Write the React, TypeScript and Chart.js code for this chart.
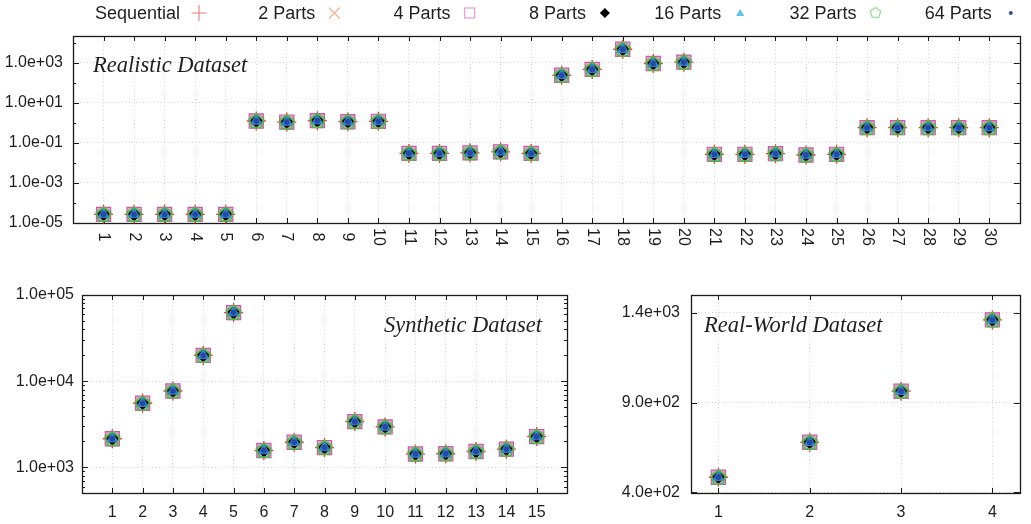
import React, { useEffect, useRef } from 'react';
import { Chart, registerables } from 'chart.js';

Chart.register(...registerables);

// ---------------- DATA ----------------
const SERIES_LABELS = ['Sequential', '2 Parts', '4 Parts', '8 Parts', '16 Parts', '32 Parts', '64 Parts'];

const REALISTIC_CATEGORIES = [1, 2, 3, 4, 5, 6, 7, 8, 9, 10, 11, 12, 13, 14, 15, 16, 17, 18, 19, 20, 21, 22, 23, 24, 25, 26, 27, 28, 29, 30];
const REALISTIC_VALUES = [
  2.7e-5, 2.7e-5, 2.7e-5, 2.7e-5, 2.7e-5,
  1.25, 1.1, 1.3, 1.15, 1.2,
  0.030, 0.030, 0.032, 0.036, 0.030,
  240, 470, 4800, 930, 1080,
  0.027, 0.027, 0.029, 0.025, 0.027,
  0.58, 0.58, 0.58, 0.58, 0.58,
];
const REALISTIC_Y_TICKS = [1e-5, 1e-3, 1e-1, 1e1, 1e3];
const REALISTIC_Y_MINOR = [1e-4, 1e-2, 1e0, 1e2, 1e4];

const SYNTHETIC_CATEGORIES = [1, 2, 3, 4, 5, 6, 7, 8, 9, 10, 11, 12, 13, 14, 15];
const SYNTHETIC_VALUES = [2150, 5550, 7700, 19900, 62500, 1570, 1960, 1700, 3400, 2950, 1430, 1440, 1530, 1630, 2280];
const SYNTHETIC_Y_TICKS = [1e3, 1e4, 1e5];
const SYNTHETIC_Y_MINOR = [600, 700, 800, 900, 2000, 3000, 4000, 5000, 6000, 7000, 8000, 9000, 20000, 30000, 40000, 50000, 60000, 70000, 80000, 90000];

const REALWORLD_CATEGORIES = [1, 2, 3, 4];
const REALWORLD_VALUES = [483, 678, 963, 1361];
const REALWORLD_Y_TICKS = [400, 900, 1400];
const REALWORLD_Y_MINOR: number[] = [];

// ---------------- STYLE ----------------
const SANS = "'Liberation Sans', Arial, sans-serif";
const SERIF = "'Liberation Serif', 'Times New Roman', serif";
const TEXT = '#1e1e1e';
const GRID = '#d2d2d2';

function sci(v: number): string {
  const e = Math.floor(Math.log10(v) + 1e-9);
  const m = v / Math.pow(10, e);
  return m.toFixed(1) + 'e' + (e < 0 ? '-' : '+') + String(Math.abs(e)).padStart(2, '0');
}

function pentagonPath(ctx: CanvasRenderingContext2D, x: number, y: number, r: number) {
  ctx.beginPath();
  for (let i = 0; i < 5; i++) {
    const a = -Math.PI / 2 + (i * 2 * Math.PI) / 5;
    const px = x + r * Math.cos(a);
    const py = y + r * Math.sin(a);
    if (i === 0) ctx.moveTo(px, py);
    else ctx.lineTo(px, py);
  }
  ctx.closePath();
}

function makePentagon(r: number, color: string, lw: number): HTMLCanvasElement {
  const c = document.createElement('canvas');
  const s = Math.ceil(2 * r + 4);
  c.width = s;
  c.height = s;
  const ctx = c.getContext('2d')!;
  ctx.strokeStyle = color;
  ctx.lineWidth = lw;
  pentagonPath(ctx, s / 2, s / 2 + 0.5, r);
  ctx.stroke();
  return c;
}

function seriesStyles() {
  return [
    { pointStyle: 'cross', pointRadius: 9.5, pointBorderColor: 'rgba(255,25,25,0.9)', pointBackgroundColor: 'rgba(0,0,0,0)', pointBorderWidth: 1.3 },
    { pointStyle: 'crossRot', pointRadius: 8.5, pointBorderColor: 'rgba(245,160,110,0.95)', pointBackgroundColor: 'rgba(0,0,0,0)', pointBorderWidth: 1.3 },
    { pointStyle: 'rect', pointRadius: 10, pointBorderColor: '#c95aa8', pointBackgroundColor: 'rgba(232,160,210,0.9)', pointBorderWidth: 1.2 },
    { pointStyle: 'rectRot', pointRadius: 6.5, pointBorderColor: '#000000', pointBackgroundColor: '#000000', pointBorderWidth: 1 },
    { pointStyle: 'triangle', pointRadius: 6.5, pointBorderColor: '#2f86d0', pointBackgroundColor: '#2f86d0', pointBorderWidth: 1 },
    { pointStyle: makePentagon(7.5, '#4cbb4c', 1.8), pointRadius: 7.5, pointBorderColor: '#4cbb4c', pointBackgroundColor: 'rgba(0,0,0,0)', pointBorderWidth: 1 },
    { pointStyle: 'circle', pointRadius: 2.5, pointBorderColor: '#2848a8', pointBackgroundColor: '#2848a8', pointBorderWidth: 1 },
  ];
}

function drawLegendMarker(ctx: CanvasRenderingContext2D, i: number, x: number, y: number) {
  ctx.save();
  ctx.lineWidth = 1.1;
  switch (i) {
    case 0:
      ctx.strokeStyle = '#f07a7a';
      ctx.beginPath();
      ctx.moveTo(x - 7.5, y); ctx.lineTo(x + 7.5, y);
      ctx.moveTo(x, y - 8); ctx.lineTo(x, y + 8);
      ctx.stroke();
      break;
    case 1:
      ctx.strokeStyle = '#f5b08a';
      ctx.beginPath();
      ctx.moveTo(x - 5.5, y - 5.5); ctx.lineTo(x + 5.5, y + 5.5);
      ctx.moveTo(x + 5.5, y - 5.5); ctx.lineTo(x - 5.5, y + 5.5);
      ctx.stroke();
      break;
    case 2:
      ctx.strokeStyle = '#e8a0d2';
      ctx.lineWidth = 1.3;
      ctx.strokeRect(x - 5, y - 5, 10, 10);
      break;
    case 3:
      ctx.fillStyle = '#000';
      ctx.beginPath();
      ctx.moveTo(x, y - 5); ctx.lineTo(x + 5, y); ctx.lineTo(x, y + 5); ctx.lineTo(x - 5, y);
      ctx.closePath();
      ctx.fill();
      break;
    case 4:
      ctx.fillStyle = '#5cc4e4';
      ctx.beginPath();
      ctx.moveTo(x, y - 4); ctx.lineTo(x + 4, y + 3); ctx.lineTo(x - 4, y + 3);
      ctx.closePath();
      ctx.fill();
      break;
    case 5:
      ctx.strokeStyle = '#98dc98';
      ctx.lineWidth = 1.3;
      pentagonPath(ctx, x, y, 5.5);
      ctx.stroke();
      break;
    case 6:
      ctx.fillStyle = '#2f4fa8';
      ctx.beginPath();
      ctx.arc(x, y, 2, 0, Math.PI * 2);
      ctx.fill();
      break;
  }
  ctx.restore();
}

interface PanelCfg {
  width: number;
  height: number;
  padTop: number;
  padRight: number;
  yWidth: number;
  xHeight: number;
  categories: number[];
  values: number[];
  xMin: number;
  xMax: number;
  yType: 'logarithmic' | 'linear';
  yMin: number;
  yMax: number;
  yTicks: number[];
  yMinor: number[];
  yPad: number;
  title: string;
  titleX: number;
  titleY: number;
  rotatedX: boolean;
  rotatedY?: number;
  legend: boolean;
}

function buildChart(canvas: HTMLCanvasElement, p: PanelCfg): Chart {
  const styles = seriesStyles();
  const n = SERIES_LABELS.length;
  const datasets = SERIES_LABELS.map((label, i) => ({
    label,
    data: p.categories.map((c, k) => ({ x: c, y: p.values[k] })),
    showLine: false,
    clip: false as any,
    order: n - 1 - i,
    ...styles[i],
  }));

  const decor = {
    id: 'decor',
    beforeDatasetsDraw(chart: any) {
      const { ctx, chartArea } = chart;
      const { left, right, top, bottom } = chartArea;
      const xs = chart.scales.x;
      const ys = chart.scales.y;
      ctx.save();
      ctx.strokeStyle = '#1a1a1a';
      ctx.lineWidth = 1;
      ctx.beginPath();
      for (const c of p.categories) {
        const px = Math.round(xs.getPixelForValue(c)) + 0.5;
        ctx.moveTo(px, bottom); ctx.lineTo(px, bottom - 5);
        ctx.moveTo(px, top); ctx.lineTo(px, top + 5);
      }
      for (const v of p.yTicks) {
        const py = Math.round(ys.getPixelForValue(v)) + 0.5;
        ctx.moveTo(left, py); ctx.lineTo(left + 6, py);
        ctx.moveTo(right, py); ctx.lineTo(right - 6, py);
      }
      for (const v of p.yMinor) {
        const py = Math.round(ys.getPixelForValue(v)) + 0.5;
        ctx.moveTo(left, py); ctx.lineTo(left + 3, py);
        ctx.moveTo(right, py); ctx.lineTo(right - 3, py);
      }
      ctx.stroke();
      ctx.lineWidth = 1.3;
      ctx.strokeRect(Math.round(left) + 0.5, Math.round(top) + 0.5, Math.round(right - left), Math.round(bottom - top));
      ctx.restore();
    },
    afterDraw(chart: any) {
      const { ctx } = chart;
      const xs = chart.scales.x;
      ctx.save();
      ctx.fillStyle = TEXT;
      ctx.font = `italic 22.5px ${SERIF}`;
      ctx.textAlign = 'left';
      ctx.textBaseline = 'alphabetic';
      ctx.fillText(p.title, p.titleX, p.titleY);
      if (p.rotatedX) {
        ctx.font = `16px ${SANS}`;
        ctx.textAlign = 'center';
        ctx.textBaseline = 'middle';
        for (const c of p.categories) {
          const px = xs.getPixelForValue(c);
          ctx.save();
          ctx.translate(px, p.rotatedY || 237);
          ctx.rotate(Math.PI / 2);
          ctx.fillText(String(c), 0, 0);
          ctx.restore();
        }
      }
      if (p.legend) {
        ctx.font = `18px ${SANS}`;
        ctx.textAlign = 'right';
        ctx.textBaseline = 'alphabetic';
        SERIES_LABELS.forEach((lab, i) => {
          const xr = 180 + i * 135.3;
          ctx.fillStyle = TEXT;
          ctx.fillText(lab, xr, 18.5);
          drawLegendMarker(ctx, i, xr + 19, 13);
        });
      }
      ctx.restore();
    },
  };

  return new Chart(canvas, {
    type: 'scatter',
    data: { datasets: datasets as any },
    plugins: [decor],
    options: {
      responsive: false,
      animation: false,
      events: [],
      layout: { padding: { top: p.padTop, right: p.padRight, left: 0, bottom: 0 } },
      plugins: { legend: { display: false }, tooltip: { enabled: false } },
      scales: {
        x: {
          type: 'linear',
          min: p.xMin,
          max: p.xMax,
          afterBuildTicks: (s: any) => { s.ticks = p.categories.map((v) => ({ value: v })); },
          afterFit: (s: any) => { s.height = p.xHeight; },
          grid: { color: GRID, lineWidth: 1, drawTicks: false },
          border: { display: false, dash: [1, 2.5] },
          ticks: {
            display: !p.rotatedX,
            autoSkip: false,
            maxRotation: 0,
            minRotation: 0,
            padding: 10,
            color: TEXT,
            font: { family: SANS, size: 16 },
            callback: (v: any) => String(v),
          },
        },
        y: {
          type: p.yType,
          min: p.yMin,
          max: p.yMax,
          afterBuildTicks: (s: any) => { s.ticks = p.yTicks.map((v) => ({ value: v })); },
          afterFit: (s: any) => { s.width = p.yWidth; },
          grid: { color: GRID, lineWidth: 1, drawTicks: false },
          border: { display: false, dash: [1, 2.5] },
          ticks: {
            autoSkip: false,
            padding: p.yPad,
            color: TEXT,
            font: { family: SANS, size: 16 },
            callback: (v: any) => sci(Number(v)),
          },
        },
      } as any,
    },
  });
}

function Panel({ cfg, left, top }: { cfg: PanelCfg; left: number; top: number }) {
  const ref = useRef<HTMLCanvasElement | null>(null);
  useEffect(() => {
    if (!ref.current) return;
    const chart = buildChart(ref.current, cfg);
    return () => chart.destroy();
  }, []);
  return (
    <canvas
      ref={ref}
      width={cfg.width}
      height={cfg.height}
      style={{ position: 'absolute', left, top, width: cfg.width, height: cfg.height, display: 'block' }}
    />
  );
}

const TOP_CFG: PanelCfg = {
  width: 1031, height: 262, padTop: 36, padRight: 3, yWidth: 73, xHeight: 39,
  categories: REALISTIC_CATEGORIES, values: REALISTIC_VALUES,
  xMin: 0, xMax: 31, yType: 'logarithmic', yMin: 1e-5, yMax: 2.2e4,
  yTicks: REALISTIC_Y_TICKS, yMinor: REALISTIC_Y_MINOR, yPad: 10,
  title: 'Realistic Dataset', titleX: 93, titleY: 72, rotatedX: true, rotatedY: 237, legend: true,
};

const SYN_CFG: PanelCfg = {
  width: 590, height: 262, padTop: 33, padRight: 23, yWidth: 82, xHeight: 31,
  categories: SYNTHETIC_CATEGORIES, values: SYNTHETIC_VALUES,
  xMin: 0, xMax: 16, yType: 'logarithmic', yMin: 505, yMax: 1e5,
  yTicks: SYNTHETIC_Y_TICKS, yMinor: SYNTHETIC_Y_MINOR, yPad: 8,
  title: 'Synthetic Dataset', titleX: 384, titleY: 70, rotatedX: false, legend: false,
};

const RW_CFG: PanelCfg = {
  width: 441, height: 262, padTop: 33, padRight: 9, yWidth: 101, xHeight: 31,
  categories: REALWORLD_CATEGORIES, values: REALWORLD_VALUES,
  xMin: 0.7, xMax: 4.3, yType: 'linear', yMin: 395, yMax: 1500,
  yTicks: REALWORLD_Y_TICKS, yMinor: REALWORLD_Y_MINOR, yPad: 11,
  title: 'Real-World Dataset', titleX: 114, titleY: 70, rotatedX: false, legend: false,
};

export default function App() {
  return (
    <div style={{ position: 'fixed', left: 0, top: 0, width: 1031, height: 524, background: '#ffffff', overflow: 'hidden' }}>
      <Panel cfg={TOP_CFG} left={0} top={0} />
      <Panel cfg={SYN_CFG} left={0} top={262} />
      <Panel cfg={RW_CFG} left={590} top={262} />
    </div>
  );
}
